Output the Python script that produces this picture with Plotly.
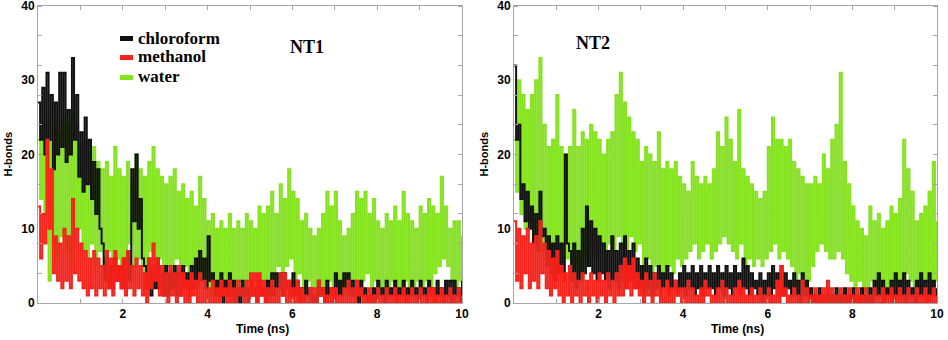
import numpy as np
import plotly.graph_objects as go

# ---------------- data (0.05 ns sampling) ----------------
time_ns = [round(i * 0.05, 2) for i in range(201)]
series_names = ["chloroform", "methanol", "water"]
draw_order = ["water", "chloroform", "methanol"]
panel_titles = ["NT1", "NT2"]
x_ticks = [2, 4, 6, 8, 10]
y_ticks = [0, 10, 20, 30, 40]

chloroform_nt1 = [
    27,22, 29,20, 31,22, 28,18, 27,20, 31,21, 31,19, 26,20, 33,22, 28,17,
    23,15, 25,16, 22,14, 19,12, 18,10, 8,3, 6,2, 5,2, 6,3, 5,2,
    6,2, 7,3, 18,11, 20,10, 14,6, 5,2, 6,1, 5,2, 6,2, 4,1,
    5,1, 4,2, 5,1, 4,1, 5,2, 4,1, 5,2, 6,3, 7,3, 6,2,
    9,3, 4,1, 3,1, 4,0, 3,1, 4,1, 3,0, 2,0, 3,1, 2,0,
    3,1, 2,0, 3,1, 2,0, 3,1, 4,1, 4,2, 4,1, 4,2, 3,1,
    4,1, 3,0, 2,0, 3,1, 2,0, 1,0, 3,1, 2,0, 3,1, 2,0,
    4,1, 3,1, 4,2, 4,1, 3,1, 2,0, 3,1, 2,0, 1,0, 2,0,
    3,1, 2,0, 3,1, 2,1, 3,0, 2,1, 3,0, 2,1, 3,1, 2,0,
    3,1, 2,0, 3,1, 2,0, 3,1, 2,0, 3,1, 3,0, 3,1, 2,0,
    3]
methanol_nt1 = [
    13,6, 12,8, 22,10, 18,4, 9,3, 8,2, 10,3, 9,2, 14,4, 10,3,
    8,2, 7,1, 6,2, 7,1, 6,2, 5,1, 7,2, 6,1, 7,3, 5,2,
    6,1, 7,2, 5,1, 6,2, 5,1, 4,0, 6,2, 8,3, 6,1, 5,1,
    4,0, 5,1, 4,0, 5,1, 4,0, 3,0, 4,1, 3,0, 4,0, 3,0,
    2,0, 3,0, 2,0, 3,1, 2,0, 3,0, 2,0, 3,1, 2,0, 3,0,
    4,1, 4,0, 4,1, 3,0, 2,0, 3,0, 2,0, 4,1, 4,0, 3,0,
    2,0, 3,0, 2,0, 1,0, 2,0, 2,0, 3,1, 2,0, 1,0, 2,0,
    2,0, 1,0, 2,0, 3,0, 2,0, 3,1, 2,0, 1,0, 2,0, 1,0,
    2,0, 1,0, 2,0, 1,0, 2,0, 1,0, 2,0, 1,0, 2,0, 1,0,
    2,0, 1,0, 2,0, 2,0, 1,0, 2,0, 1,0, 2,0, 1,0, 2,0,
    1]
water_nt1 = [
    22,14, 24,12, 25,3, 22,8, 24,6, 23,9, 25,7, 24,5, 26,8, 24,10,
    21,7, 22,6, 20,8, 21,5, 19,7, 18,5, 19,7, 17,5, 21,6, 18,4,
    17,6, 19,8, 16,5, 20,6, 18,4, 17,5, 19,7, 21,5, 18,6, 17,4,
    16,5, 17,3, 18,6, 15,4, 16,5, 14,3, 15,4, 13,2, 17,3, 14,2,
    11,1, 12,2, 10,1, 11,3, 10,2, 12,3, 10,1, 11,3, 10,2, 12,3,
    11,2, 10,3, 13,2, 12,1, 13,3, 15,4, 12,5, 16,4, 14,5, 18,6,
    15,3, 14,4, 11,2, 12,3, 10,2, 9,1, 10,1, 12,2, 15,3, 13,2,
    15,3, 11,2, 9,1, 10,2, 12,3, 15,2, 14,3, 15,4, 12,2, 14,3,
    11,2, 10,1, 12,2, 11,3, 13,2, 11,1, 15,3, 12,2, 11,2, 10,3,
    13,2, 12,3, 14,2, 13,4, 12,5, 17,6, 13,5, 10,3, 11,2, 11,3,
    9]

chloroform_nt2 = [
    32,22, 24,14, 16,11, 15,10, 13,8, 12,7, 15,9, 10,5, 9,4, 8,3,
    9,4, 8,3, 20,8, 7,3, 8,2, 7,3, 10,4, 13,5, 11,4, 10,3,
    9,4, 8,3, 7,2, 9,3, 7,2, 8,3, 9,2, 7,3, 8,2, 6,2,
    5,1, 6,2, 5,1, 4,2, 5,1, 4,2, 5,1, 4,2, 3,1, 4,2,
    5,1, 4,2, 5,1, 4,2, 5,1, 4,2, 5,2, 4,1, 5,2, 4,1,
    5,2, 4,1, 5,2, 4,1, 6,2, 5,1, 4,2, 3,1, 4,0, 3,1,
    4,1, 5,2, 4,1, 5,1, 4,2, 3,1, 4,1, 3,0, 4,1, 3,0,
    2,0, 1,0, 2,0, 1,0, 2,0, 1,0, 2,0, 1,0, 2,0, 1,0,
    2,0, 1,0, 2,0, 1,0, 2,0, 3,1, 4,1, 3,0, 2,1, 3,0,
    4,1, 3,1, 4,0, 3,1, 2,0, 3,1, 4,1, 3,0, 4,1, 3,1,
    2]
methanol_nt2 = [
    11,3, 10,2, 9,4, 10,2, 8,3, 9,2, 11,4, 8,2, 7,1, 6,2,
    7,1, 5,0, 4,1, 5,0, 4,1, 3,0, 4,1, 3,0, 4,1, 3,0,
    4,1, 3,0, 4,1, 3,0, 4,1, 5,1, 6,2, 5,1, 6,2, 4,1,
    3,0, 4,1, 3,0, 4,1, 3,0, 2,0, 3,0, 2,0, 3,1, 2,0,
    2,0, 3,0, 2,0, 1,0, 2,0, 3,1, 2,0, 1,0, 2,0, 3,0,
    2,0, 1,0, 2,0, 3,0, 2,0, 1,0, 2,0, 1,0, 2,0, 1,0,
    2,0, 1,0, 3,0, 5,1, 2,0, 1,0, 2,0, 1,0, 3,0, 2,0,
    1,0, 2,0, 1,0, 2,0, 3,0, 2,0, 1,0, 2,0, 1,0, 2,0,
    1,0, 2,0, 1,0, 2,0, 1,0, 2,0, 1,0, 2,0, 1,0, 2,0,
    1,0, 2,0, 1,0, 2,0, 1,0, 2,0, 1,0, 2,0, 1,0, 2,0,
    1]
water_nt2 = [
    22,15, 30,12, 28,10, 26,11, 28,8, 30,9, 33,7, 24,6, 21,4, 22,5,
    28,6, 21,4, 20,6, 21,3, 26,5, 21,4, 23,6, 22,5, 24,7, 23,6,
    22,8, 20,7, 22,8, 23,7, 28,9, 31,8, 27,7, 25,9, 23,7, 22,8,
    19,5, 21,6, 20,4, 19,5, 23,4, 18,3, 19,5, 18,4, 19,6, 17,5,
    16,6, 15,7, 19,8, 17,6, 16,7, 17,8, 16,6, 18,7, 23,8, 21,9,
    25,8, 22,7, 19,6, 26,8, 18,5, 17,6, 16,5, 15,6, 14,5, 15,6,
    21,7, 25,8, 22,6, 22,7, 21,6, 22,5, 19,3, 18,4, 17,2, 16,3,
    16,5, 17,7, 16,8, 20,7, 18,6, 22,6, 24,7, 31,6, 19,4, 16,3,
    13,2, 11,3, 10,2, 9,1, 13,3, 11,2, 12,3, 10,2, 11,1, 13,3,
    12,2, 14,3, 22,4, 18,3, 15,2, 11,3, 12,2, 13,3, 15,2, 19,3,
    11]

# ---------------- styling ----------------
W, H = 948, 340
colors = {"chloroform": "#111111", "methanol": "#f5231c", "water": "#84e21f"}
frame_color = "#a6a6a6"

# plot areas in pixels (left, right, top, bottom)
areas = [(38, 462, 6, 303), (514, 937, 6, 303)]

fig = go.Figure()
panels = [
    {"chloroform": chloroform_nt1, "methanol": methanol_nt1, "water": water_nt1},
    {"chloroform": chloroform_nt2, "methanol": methanol_nt2, "water": water_nt2},
]

for p, data in enumerate(panels):
    xa = "x" if p == 0 else "x2"
    ya = "y" if p == 0 else "y2"
    for name in draw_order:
        fig.add_trace(go.Scatter(
            x=time_ns, y=data[name], mode="lines", name=name,
            line=dict(color=colors[name], width=2.0, shape="hv"),
            xaxis=xa, yaxis=ya, showlegend=False, hoverinfo="skip"))

tick_font = dict(family="Liberation Sans, Arial", size=12, color="black", weight="bold")


def xaxis_cfg(area):
    l, r, t, b = area
    return dict(domain=[l / W, r / W], range=[0, 10], tickvals=x_ticks,
                ticks="inside", ticklen=4, tickcolor=frame_color,
                minor=dict(dtick=1, ticks="inside", ticklen=4, tickcolor=frame_color),
                showline=True, linecolor=frame_color, linewidth=1, mirror="allticks",
                showgrid=False, zeroline=False, tickfont=tick_font, automargin=False,
                ticklabeloverflow="allow")


def yaxis_cfg(area, anchor):
    l, r, t, b = area
    return dict(domain=[1 - b / H, 1 - t / H], range=[0, 40], tickvals=y_ticks,
                ticks="", anchor=anchor,
                minor=dict(dtick=4, ticks="inside", ticklen=4, tickcolor=frame_color),
                showline=True, linecolor=frame_color, linewidth=1, mirror="allticks",
                showgrid=False, zeroline=False, tickfont=tick_font, automargin=False,
                ticklabeloverflow="allow")


fig.update_layout(
    width=W, height=H, margin=dict(l=0, r=0, t=0, b=0),
    paper_bgcolor="white", plot_bgcolor="white",
    xaxis=dict(**xaxis_cfg(areas[0]), anchor="y"),
    yaxis=yaxis_cfg(areas[0], "x"),
    xaxis2=dict(**xaxis_cfg(areas[1]), anchor="y2"),
    yaxis2=yaxis_cfg(areas[1], "x2"),
)

ann = []
shapes = []
label_font = dict(family="Liberation Sans, Arial", size=11, color="black", weight="bold")
for p, area in enumerate(areas):
    l, r, t, b = area
    ann.append(dict(text="H-bonds", xref="paper", yref="paper",
                    x=(l - 30) / W, y=1 - ((t + b) / 2) / H, textangle=-90,
                    showarrow=False, font=label_font, xanchor="center", yanchor="middle"))
    ann.append(dict(text="Time (ns)", xref="paper", yref="paper",
                    x=((l + r) / 2 + 12) / W, y=1 - 329 / H,
                    showarrow=False, font=dict(label_font, size=12),
                    xanchor="center", yanchor="middle"))

title_pos = [(307, 47), (593, 43)]
for name, (px, py) in zip(panel_titles, title_pos):
    ann.append(dict(text=name, xref="paper", yref="paper", x=px / W, y=1 - py / H,
                    showarrow=False, xanchor="center", yanchor="middle",
                    font=dict(family="Liberation Serif, Times New Roman", size=18,
                              color="black", weight="bold")))

leg_rows = [38, 57, 77]
for name, yy in zip(series_names, leg_rows):
    shapes.append(dict(type="rect", xref="paper", yref="paper",
                       x0=120 / W, x1=133 / W, y0=1 - (yy + 3) / H, y1=1 - (yy - 2) / H,
                       fillcolor=colors[name], line=dict(width=0)))
    ann.append(dict(text=name, xref="paper", yref="paper", x=136 / W, y=1 - yy / H,
                    showarrow=False, xanchor="left", yanchor="middle",
                    font=dict(family="Liberation Serif, Times New Roman", size=17,
                              color="black", weight="bold")))

fig.update_layout(annotations=ann, shapes=shapes)
fig.write_html("out.html", config={"displayModeBar": False},
               post_script="document.body.style.margin='0';")
